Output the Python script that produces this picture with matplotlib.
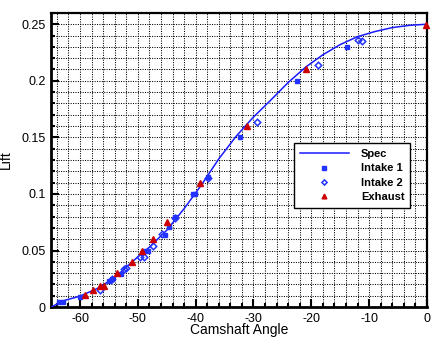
import numpy as np
import matplotlib
matplotlib.use("Agg")
import matplotlib.pyplot as plt
from matplotlib.ticker import MultipleLocator

plt.rcParams['font.family'] = ['Liberation Sans', 'DejaVu Sans']

# spec curve
spec_x = [-65, -63, -60, -57, -54, -51, -48, -45, -42, -39, -36, -33, -30,
          -27, -24, -21, -18, -15, -12, -9, -6, -3, 0]
spec_y = [0.0, 0.0055, 0.0097, 0.0165, 0.026, 0.040, 0.053, 0.068, 0.087,
          0.108, 0.131, 0.151, 0.168, 0.183, 0.1985, 0.212, 0.223, 0.232,
          0.239, 0.2435, 0.247, 0.249, 0.250]

# measured points
intake1_x = [-63.6, -63.0, -60.0, -55.0, -54.5, -53.0, -48.8, -48.3, -45.3,
             -44.7, -43.5, -40.5, -40.2, -37.8, -32.3, -22.4, -13.8]
intake1_y = [0.0045, 0.0048, 0.009, 0.023, 0.025, 0.029, 0.050, 0.050, 0.064,
             0.071, 0.080, 0.100, 0.100, 0.115, 0.150, 0.200, 0.230]

intake2_x = [-56.6, -54.4, -52.4, -52.0, -49.6, -49.0, -47.3, -45.8, -43.5,
             -37.8, -29.4, -18.8, -11.9, -11.3]
intake2_y = [0.015, 0.025, 0.034, 0.035, 0.044, 0.044, 0.054, 0.065, 0.079,
             0.114, 0.164, 0.214, 0.236, 0.235]

exhaust_x = [-59.2, -57.7, -56.6, -55.8, -53.6, -51.0, -49.3, -47.4, -45.0,
             -39.3, -31.1, -20.9, -0.2]
exhaust_y = [0.0106, 0.015, 0.019, 0.019, 0.030, 0.040, 0.050, 0.060, 0.075,
             0.110, 0.160, 0.210, 0.249]

fig = plt.figure(figsize=(4.37, 3.39), dpi=100)
ax = fig.add_axes([0.117, 0.094, 0.860, 0.868])

ax.plot(spec_x, spec_y, color='#1a1aff', lw=1.1, label='Spec', zorder=3)
ax.plot(intake1_x, intake1_y, ls='none', marker='s', ms=3.3, color='#2233ff',
        mec='#2233ff', label='Intake 1', zorder=4)
ax.plot(intake2_x, intake2_y, ls='none', marker='D', ms=3.3, mfc='none',
        mec='#2233ff', mew=1.1, label='Intake 2', zorder=4)
ax.plot(exhaust_x, exhaust_y, ls='none', marker='^', ms=4.3, color='#cc0000',
        label='Exhaust', zorder=5, clip_on=False)

ax.set_xlim(-65, 0)
ax.set_ylim(0, 0.26)
ax.xaxis.set_major_locator(MultipleLocator(10))
ax.xaxis.set_minor_locator(MultipleLocator(2))
ax.yaxis.set_major_locator(MultipleLocator(0.05))
ax.yaxis.set_minor_locator(MultipleLocator(0.01))
ax.set_yticks([0, 0.05, 0.1, 0.15, 0.2, 0.25])
ax.set_yticklabels(['0', '0.05', '0.1', '0.15', '0.2', '0.25'])
ax.set_xticks([-60, -50, -40, -30, -20, -10, 0])
ax.set_xticklabels(['-60', '-50', '-40', '-30', '-20', '-10', '0'])

ax.grid(which='both', color='black', ls=(0, (1, 1.3)), lw=0.75)
ax.tick_params(which='both', direction='in', top=False, right=False,
               labelsize=9, width=1.5, pad=4)
ax.tick_params(which='major', length=6)
ax.tick_params(which='minor', length=3)
for s in ax.spines.values():
    s.set_linewidth(1.6)
ax.spines['left'].set_linewidth(2.0)
ax.spines['bottom'].set_linewidth(2.0)

ax.set_xlabel('Camshaft Angle', fontsize=10, labelpad=-1)
ax.set_ylabel('Lift', fontsize=10, labelpad=6)

leg = ax.legend(loc='upper left', bbox_to_anchor=(0.645, 0.558),
                prop={'weight': 'bold', 'size': 8}, handlelength=4.4,
                markerscale=0.8, fancybox=False, framealpha=1,
                edgecolor='black', borderpad=0.55, labelspacing=0.4,
                handletextpad=1.1, borderaxespad=0)
leg.get_frame().set_linewidth(1.0)

fig.savefig('out.png', dpi=100)
